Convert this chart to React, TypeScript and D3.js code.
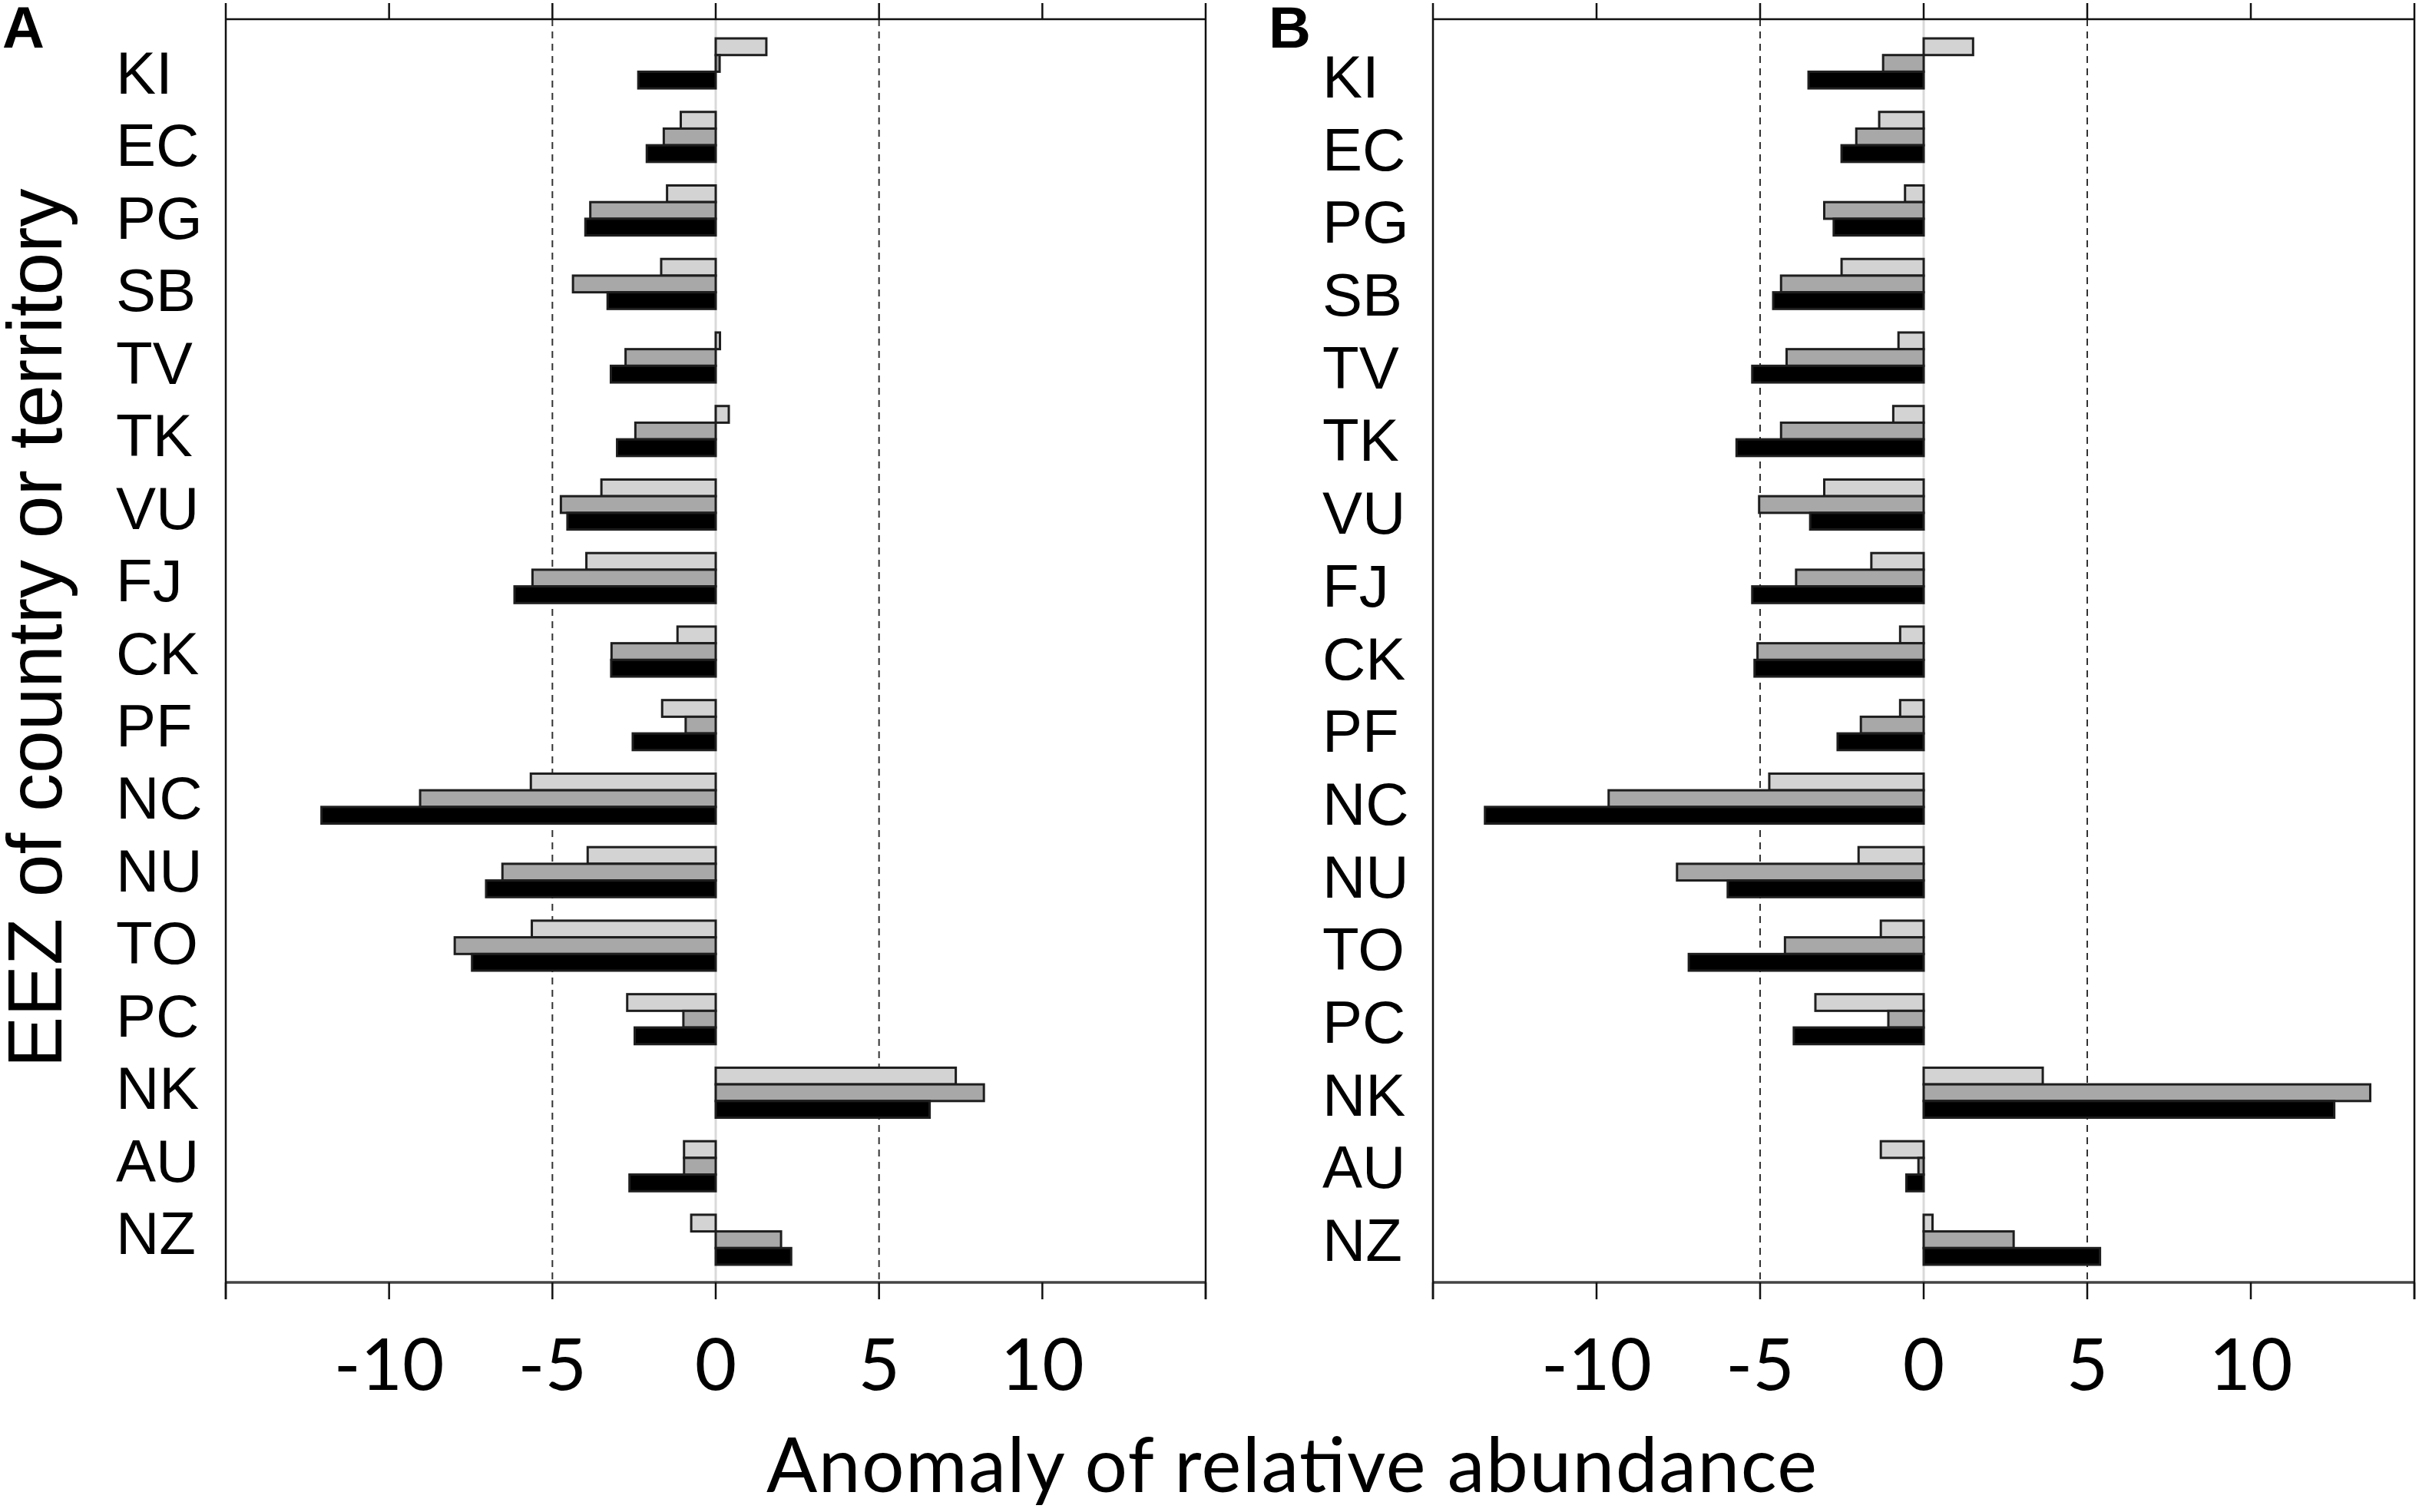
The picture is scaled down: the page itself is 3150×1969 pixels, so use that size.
import React from "react";
import * as d3 from "d3";

const categories = ["KI","EC","PG","SB","TV","TK","VU","FJ","CK","PF","NC","NU","TO","PC","NK","AU","NZ"];
const seriesKeys = ["light","mid","black"];
const tickValuesTop = [-10, -5, 0, 5, 10];
const tickValuesBottom = [-15, -10, -5, 0, 5, 10, 15];
const tickLabels = [-10, -5, 0, 5, 10];
const refLines = [-5, 5];

// Panel A
const aLight = [1.55,-1.07,-1.49,-1.67,0.13,0.4,-3.5,-3.96,-1.17,-1.64,-5.66,-3.92,-5.63,-2.71,7.35,-0.97,-0.75];
const aMid   = [0.12,-1.59,-3.84,-4.37,-2.76,-2.46,-4.74,-5.61,-3.19,-0.92,-9.05,-6.53,-7.99,-0.99,8.21,-0.97,2.0];
const aBlack = [-2.37,-2.11,-3.99,-3.31,-3.21,-3.02,-4.54,-6.16,-3.2,-2.54,-12.07,-7.03,-7.46,-2.48,6.55,-2.64,2.31];

// Panel B
const bLight = [1.51,-1.36,-0.57,-2.51,-0.77,-0.93,-3.04,-1.6,-0.72,-0.72,-4.72,-1.99,-1.31,-3.31,3.64,-1.31,0.27];
const bMid   = [-1.24,-2.06,-3.04,-4.36,-4.19,-4.36,-5.03,-3.9,-5.08,-1.92,-9.63,-7.54,-4.24,-1.08,13.65,-0.16,2.75];
const bBlack = [-3.52,-2.51,-2.75,-4.6,-5.24,-5.72,-3.47,-5.24,-5.17,-2.63,-13.41,-5.99,-7.18,-3.97,12.55,-0.53,5.39];

const W = 3150, H = 1969;
const TOP = 25, BOTTOM = 1670;
const fills: Record<string, string> = { light: "#d3d3d3", mid: "#a8a8a8", black: "#000000" };
const labelFont = "'Liberation Sans', Arial, sans-serif";
const tickFont = "Lato, 'Open Sans', sans-serif";

const panels = [
  { letter: "A", letterX: 3, x0: 294, x1: 1570, labelX: 151, labelY: [122, 1633], data: [aLight, aMid, aBlack] },
  { letter: "B", letterX: 1652, x0: 1866, x1: 3144, labelX: 1722, labelY: [127, 1642], data: [bLight, bMid, bBlack] },
];

const yBand = d3.scaleBand<string>().domain(categories).range([50, 1647]).paddingInner(0.32).paddingOuter(0);
const ySub = d3.scaleBand<string>().domain(seriesKeys).range([0, yBand.bandwidth()]).padding(0);

function Panel({ p }: { p: typeof panels[number] }) {
  const x = d3.scaleLinear().domain([-15, 15]).range([p.x0, p.x1]);
  const yLab = d3.scalePoint<string>().domain(categories).range(p.labelY as [number, number]);
  return (
    <g>
      <text x={p.letterX} y={62} fontFamily={labelFont} fontWeight="bold" fontSize={76} fill="#000">{p.letter}</text>
      {/* zero line */}
      <line x1={x(0)} x2={x(0)} y1={TOP} y2={BOTTOM} stroke="#d9d9d9" strokeWidth={3} />
      {refLines.map((v) => (
        <line key={v} x1={x(v)} x2={x(v)} y1={TOP} y2={BOTTOM} stroke="#333" strokeWidth={2} strokeDasharray="9,7" />
      ))}
      {/* bars */}
      {categories.map((c, i) =>
        seriesKeys.map((s, j) => {
          const v = p.data[j][i];
          const xa = x(Math.min(0, v));
          const xb = x(Math.max(0, v));
          const y = (yBand(c) as number) + (ySub(s) as number);
          return (
            <rect key={c + s} x={xa} y={y} width={Math.max(xb - xa, 0.5)} height={ySub.bandwidth()}
              fill={fills[s]} stroke="#1e1e1e" strokeWidth={3} />
          );
        })
      )}
      {/* frame */}
      <line x1={p.x0} x2={p.x1} y1={TOP} y2={TOP} stroke="#111" strokeWidth={2.5} />
      <line x1={p.x0} x2={p.x1} y1={BOTTOM} y2={BOTTOM} stroke="#444" strokeWidth={3.5} />
      <line x1={p.x0} x2={p.x0} y1={TOP - 21} y2={BOTTOM + 22} stroke="#111" strokeWidth={2.5} />
      <line x1={p.x1} x2={p.x1} y1={TOP - 21} y2={BOTTOM + 22} stroke="#111" strokeWidth={2.5} />
      {tickValuesTop.map((v) => (
        <line key={"t" + v} x1={x(v)} x2={x(v)} y1={TOP - 21} y2={TOP} stroke="#111" strokeWidth={2.5} />
      ))}
      {tickValuesBottom.map((v) => (
        <line key={"b" + v} x1={x(v)} x2={x(v)} y1={BOTTOM} y2={BOTTOM + 22} stroke="#111" strokeWidth={2.5} />
      ))}
      {tickLabels.map((v) => (
        <text key={"l" + v} x={x(v)} y={1810} textAnchor="middle" fontFamily={tickFont} fontSize={94} fill="#000">{String(v)}</text>
      ))}
      {categories.map((c) => (
        <text key={"c" + c} x={p.labelX} y={yLab(c)} fontFamily={labelFont} fontSize={78} fill="#000">{c}</text>
      ))}
    </g>
  );
}

export default function App() {
  return (
    <svg width={W} height={H} viewBox={`0 0 ${W} ${H}`} style={{ position: "absolute", left: 0, top: 0, background: "#fff" }}>
      <rect x={0} y={0} width={W} height={H} fill="#fff" />
      {panels.map((p) => <Panel key={p.letter} p={p} />)}
      <text transform="translate(80,818) rotate(-90)" textAnchor="middle" fontFamily={labelFont} fontSize={100} fill="#000">EEZ of country or territory</text>
      <text x={1682} y={1943} textAnchor="middle" fontFamily={tickFont} fontSize={98} textLength={1368} fill="#000">Anomaly of relative abundance</text>
    </svg>
  );
}
